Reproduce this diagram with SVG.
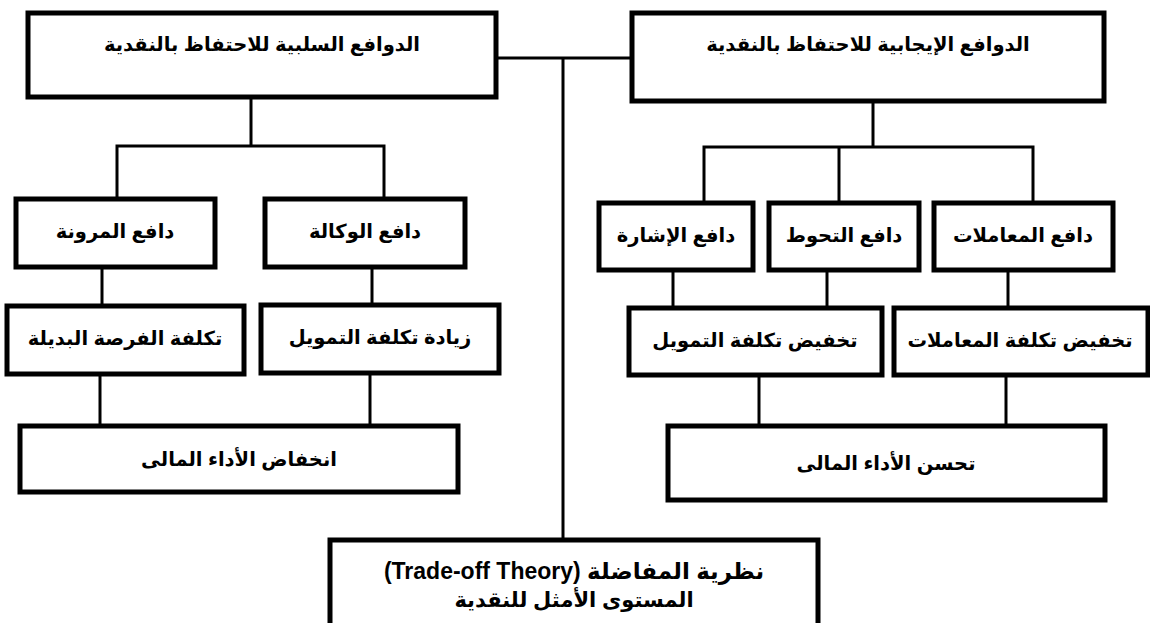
<svg xmlns="http://www.w3.org/2000/svg" width="1150" height="623" viewBox="0 0 1150 623">
<style>
.box{fill:#fff;stroke:#000;stroke-width:5}
.ln{stroke:#000;stroke-width:3;fill:none}
text{font-family:"Liberation Sans","DejaVu Sans",Arial,sans-serif;font-weight:bold;font-size:19.5px;text-anchor:middle;fill:#000;direction:rtl;unicode-bidi:embed}
.big{font-size:23px}
.mid{font-size:21px}
</style>
<rect width="1150" height="623" fill="#fff"/>
<g id="connectors">
<polyline class="ln" points="496,58 632,58"/>
<polyline class="ln" points="563,58 563,540"/>
<polyline class="ln" points="251,97 251,146"/>
<polyline class="ln" points="117,199 117,146 384,146 384,199"/>
<polyline class="ln" points="102,267 102,306"/>
<polyline class="ln" points="372,267 372,305"/>
<polyline class="ln" points="100,374 100,426"/>
<polyline class="ln" points="370,373 370,426"/>
<polyline class="ln" points="873,101 873,147"/>
<polyline class="ln" points="704,203 704,147 1033,147 1033,203"/>
<polyline class="ln" points="839,147 839,203"/>
<polyline class="ln" points="673,270 673,308"/>
<polyline class="ln" points="827,270 827,308"/>
<polyline class="ln" points="1008,270 1008,308"/>
<polyline class="ln" points="759,375 759,426"/>
<polyline class="ln" points="1006,375 1006,426"/>
</g>
<g id="neg-motives"><rect class="box" x="28" y="13" width="468" height="84"/><text x="262" y="51" direction="rtl">الدوافع السلبية للاحتفاظ بالنقدية</text></g>
<g id="pos-motives"><rect class="box" x="632" y="13" width="472" height="88"/><text x="868" y="51" direction="rtl">الدوافع الإيجابية للاحتفاظ بالنقدية</text></g>
<g id="flex"><rect class="box" x="16" y="199" width="199" height="68"/><text x="115" y="238" direction="rtl">دافع المرونة</text></g>
<g id="agency"><rect class="box" x="265" y="199" width="200" height="68"/><text x="365" y="238" direction="rtl">دافع الوكالة</text></g>
<g id="signal"><rect class="box" x="599" y="203" width="154" height="67"/><text x="676" y="242" direction="rtl">دافع الإشارة</text></g>
<g id="precaution"><rect class="box" x="769" y="203" width="150" height="67"/><text x="844" y="242" direction="rtl">دافع التحوط</text></g>
<g id="transactions"><rect class="box" x="934" y="203" width="179" height="67"/><text x="1023" y="242" direction="rtl">دافع المعاملات</text></g>
<g id="opportunity"><rect class="box" x="7" y="306" width="237" height="68"/><text x="125" y="345" direction="rtl">تكلفة الفرصة البديلة</text></g>
<g id="fin-cost-up"><rect class="box" x="261" y="305" width="238" height="68"/><text x="380" y="344" direction="rtl">زيادة تكلفة التمويل</text></g>
<g id="fin-cost-down"><rect class="box" x="629" y="308" width="253" height="67"/><text x="755" y="347" direction="rtl">تخفيض تكلفة التمويل</text></g>
<g id="trans-cost-down"><rect class="box" x="894" y="308" width="254" height="67"/><text x="1020" y="347" direction="rtl">تخفيض تكلفة المعاملات</text></g>
<g id="perf-down"><rect class="box" x="20" y="426" width="438" height="66"/><text x="239" y="466" direction="rtl">انخفاض الأداء المالى</text></g>
<g id="perf-up"><rect class="box" x="668" y="426" width="437" height="74"/><text x="886" y="470" direction="rtl">تحسن الأداء المالى</text></g>
<g id="tradeoff"><rect class="box" x="330" y="540" width="488" height="95"/><text class="big" x="574" y="579" direction="rtl">نظرية المفاضلة (Trade-off Theory)</text><text class="mid" x="574" y="607" direction="rtl">المستوى الأمثل للنقدية</text></g>
</svg>
